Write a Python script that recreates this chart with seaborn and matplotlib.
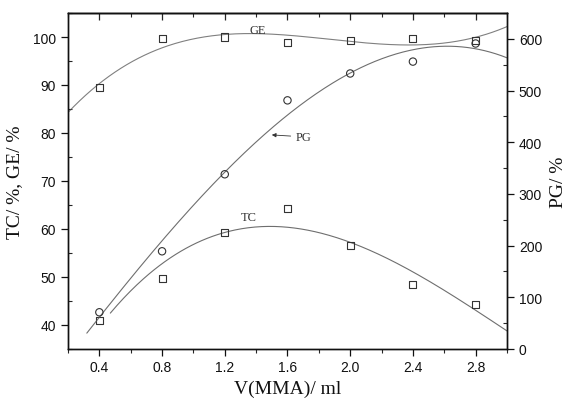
import numpy as np
import pandas as pd
import matplotlib
matplotlib.use("Agg")
import matplotlib.pyplot as plt
import seaborn as sns
from matplotlib.ticker import MultipleLocator

# Monomer volume and measured responses
v_mma = [0.4, 0.8, 1.2, 1.6, 2.0, 2.4, 2.8]
ge_pct = [89.5, 99.7, 100.0, 98.8, 99.3, 99.7, 99.3]
tc_pct = [41.0, 49.7, 59.2, 64.2, 56.5, 48.5, 44.3]
pg_pct = [71, 189, 338, 481, 533, 556, 591]

sns.set_theme(style="ticks")
plt.rcParams["font.family"] = ["Liberation Sans", "DejaVu Sans"]
plt.rcParams["axes.linewidth"] = 1.0
plt.rcParams["axes.edgecolor"] = "#111111"

SERIF = ["Liberation Serif", "DejaVu Serif"]
LINE = "#555555"
MARK = "#333333"


def cubic_fit(y, lo, hi):
    coef = np.polyfit(v_mma, y, 3)
    xs = np.linspace(lo, hi, 300)
    return pd.DataFrame({"x": xs, "y": np.polyval(coef, xs)})


fig = plt.figure(figsize=(5.69, 4.06), dpi=100)
ax = fig.add_axes([0.1195, 0.138, 0.7715, 0.8275])
ax2 = ax.twinx()

# Fitted trend curves
sns.lineplot(data=cubic_fit(ge_pct, 0.2, 3.0), x="x", y="y", ax=ax,
             color=LINE, lw=0.8, alpha=0.75)
sns.lineplot(data=cubic_fit(tc_pct, 0.47, 3.0), x="x", y="y", ax=ax,
             color=LINE, lw=0.8, alpha=0.85)
sns.lineplot(data=cubic_fit(pg_pct, 0.32, 3.0), x="x", y="y", ax=ax2,
             color=LINE, lw=0.8, alpha=0.85)

# Measured points
sns.scatterplot(x=v_mma, y=ge_pct, ax=ax, marker="s", s=26,
                facecolor="none", edgecolor=MARK, linewidth=0.8, zorder=5)
sns.scatterplot(x=v_mma, y=tc_pct, ax=ax, marker="s", s=26,
                facecolor="none", edgecolor=MARK, linewidth=0.8, zorder=5)
sns.scatterplot(x=v_mma, y=pg_pct, ax=ax2, marker="o", s=28,
                facecolor="none", edgecolor=MARK, linewidth=0.8, zorder=5)

# Axis ranges and ticks
ax.set_xlim(0.2, 3.0)
ax.set_ylim(35, 105)
ax2.set_ylim(0, 650)
ax.xaxis.set_major_locator(MultipleLocator(0.4))
ax.xaxis.set_minor_locator(MultipleLocator(0.2))
ax.yaxis.set_major_locator(MultipleLocator(10))
ax.yaxis.set_minor_locator(MultipleLocator(5))
ax2.yaxis.set_major_locator(MultipleLocator(100))
ax2.yaxis.set_minor_locator(MultipleLocator(50))

ax.tick_params(axis="x", which="major", direction="out", length=5,
               width=0.9, labelsize=10, colors="#111111", pad=3)
ax.tick_params(axis="x", which="minor", direction="out", length=3, width=0.8)
ax.tick_params(axis="y", which="major", direction="out", length=5,
               width=0.9, labelsize=10, colors="#111111", right=False)
ax.tick_params(axis="y", which="minor", direction="in", length=3,
               width=0.8, right=False)
ax2.tick_params(axis="y", which="major", direction="out", length=5,
                width=0.9, labelsize=10, colors="#111111")
ax2.tick_params(axis="y", which="minor", direction="in", length=3, width=0.8)

top = ax.secondary_xaxis("top")
top.xaxis.set_major_locator(MultipleLocator(0.4))
top.xaxis.set_minor_locator(MultipleLocator(0.2))
top.tick_params(which="major", direction="in", length=5, width=0.9,
                labeltop=False)
top.tick_params(which="minor", direction="in", length=3, width=0.8)

for a in (ax, ax2):
    for s in a.spines.values():
        s.set_visible(True)
        s.set_color("#111111")

# Axis titles
ax.set_xlabel("V(MMA)/ ml", family=SERIF, fontsize=14, color="#111111",
              labelpad=4)
ax.set_ylabel("TC/ %, GE/ %", family=SERIF, fontsize=14, color="#111111",
              labelpad=7)
ax2.set_ylabel("PG/ %", family=SERIF, fontsize=14, color="#111111",
               labelpad=6)

# Curve labels
ax.text(1.36, 101.4, "GE", family=SERIF, fontsize=9, color="#333333",
        ha="left", va="center")
ax.text(1.30, 62.4, "TC", family=SERIF, fontsize=9, color="#333333",
        ha="left", va="center")
ax.annotate("PG", xy=(1.5, 79.6), xytext=(1.65, 79.2),
            family=SERIF, fontsize=9, color="#333333", va="center",
            arrowprops=dict(arrowstyle="-|>", lw=0.6, color="#333333",
                            mutation_scale=6, shrinkA=1, shrinkB=0))

ax.set_facecolor("white")
fig.patch.set_facecolor("white")
fig.savefig("out.png", dpi=100)
